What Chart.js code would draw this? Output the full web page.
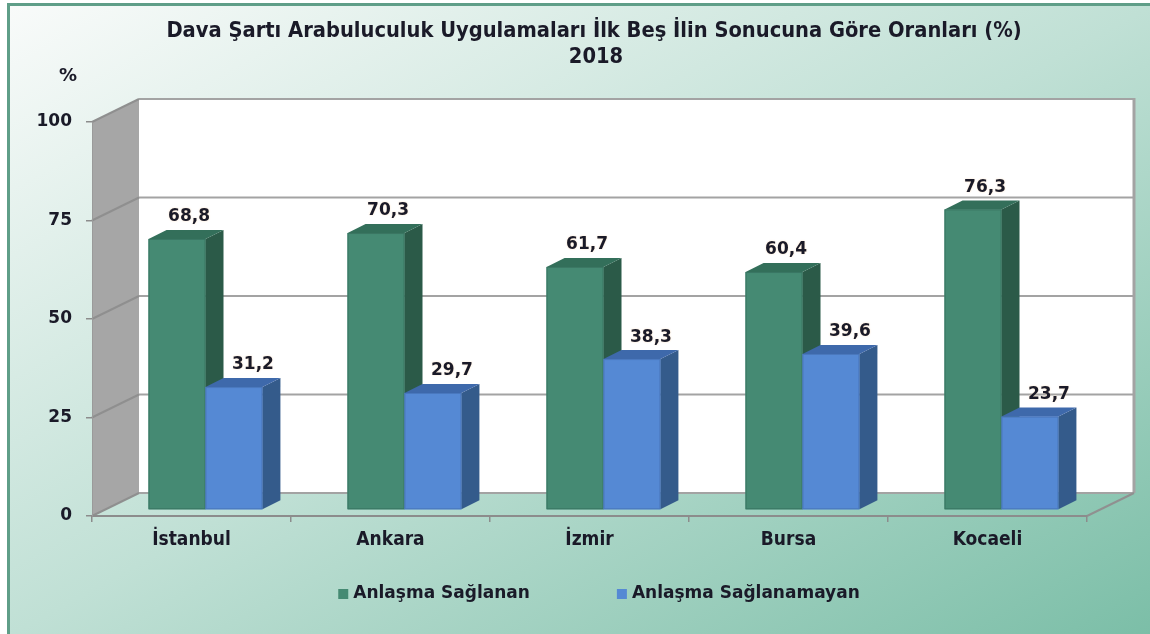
<!DOCTYPE html>
<html lang="tr">
<head>
<meta charset="utf-8">
<title>Dava Şartı Arabuluculuk 2018</title>
<script src="https://cdn.jsdelivr.net/npm/chart.js@4.4.1/dist/chart.umd.min.js"></script>
<style>
  html, body { margin: 0; padding: 0; background: #fff; overflow: hidden; }
  canvas { display: block; }
</style>
</head>
<body>
<canvas id="chart" width="1150" height="634"></canvas>
<script>
// data
const categories = ['İstanbul', 'Ankara', 'İzmir', 'Bursa', 'Kocaeli'];
const agreed = [68.8, 70.3, 61.7, 60.4, 76.3];
const notAgreed = [31.2, 29.7, 38.3, 39.6, 23.7];
const yTicks = [0, 25, 50, 75, 100];
const seriesNames = ['Anlaşma Sağlanan', 'Anlaşma Sağlanamayan'];
const titleLines = ['Dava Şartı Arabuluculuk Uygulamaları İlk Beş İlin Sonucuna Göre Oranları (%)', '2018'];

const W = 1150, H = 634;
const DX = 47, DY = -23;          // depth of the 3d box
const BDX = 18, BDY = -9;         // depth of one bar
const SHIFT_X = 14, SHIFT_Y = -6; // where the bars sit inside the box
const TEXT = '#1a1a28';

const faces = [
  { front: '#458a73', side: '#2b5a48', top: '#336f5a', edge: '#3a7663' },
  { front: '#5589d4', side: '#345b8b', top: '#3e69ab', edge: '#4a78bd' }
];

function fmt(v) {
  return v.toFixed(1).replace('.', ',');
}

function poly(ctx, pts, fill) {
  ctx.beginPath();
  ctx.moveTo(pts[0][0], pts[0][1]);
  for (let i = 1; i < pts.length; i++) ctx.lineTo(pts[i][0], pts[i][1]);
  ctx.closePath();
  ctx.fillStyle = fill;
  ctx.fill();
}

// background, walls, title, legend
const box3d = {
  id: 'box3d',
  beforeDraw(chart) {
    const ctx = chart.ctx;
    const xs = chart.scales.x, ys = chart.scales.y;
    ctx.save();

    ctx.fillStyle = '#fff';
    ctx.fillRect(0, 0, W, H);
    const g = ctx.createLinearGradient(7, 3, 543, 975);
    g.addColorStop(0, '#f9fbfa');
    g.addColorStop(0.5, '#c0e0d5');
    g.addColorStop(1, '#7bbea7');
    ctx.fillStyle = g;
    ctx.fillRect(7, 3, W - 7, H - 3);
    ctx.fillStyle = '#5f9e88';
    ctx.fillRect(7, 3, 3, H - 3);
    ctx.fillRect(7, 3, W - 7, 3);

    const l = xs.left, r = xs.right;
    const t = ys.getPixelForValue(100), b = ys.getPixelForValue(0);

    // back wall
    ctx.fillStyle = '#ffffff';
    ctx.fillRect(l + DX, t + DY, r - l, b - t);
    // side wall
    poly(ctx, [[l, t], [l + DX, t + DY], [l + DX, b + DY], [l, b]], '#a6a6a6');

    // grid lines on the walls
    ctx.lineWidth = 2;
    yTicks.forEach(v => {
      const py = ys.getPixelForValue(v);
      ctx.strokeStyle = '#8f8f8f';
      ctx.beginPath();
      ctx.moveTo(l, py);
      ctx.lineTo(l + DX, py + DY);
      ctx.stroke();
      ctx.strokeStyle = '#a3a3a3';
      ctx.beginPath();
      ctx.moveTo(l + DX, py + DY);
      ctx.lineTo(r + DX, py + DY);
      ctx.stroke();
    });
    // right edge of the back wall and of the floor
    ctx.strokeStyle = '#a3a3a3';
    ctx.lineWidth = 3;
    ctx.beginPath();
    ctx.moveTo(r + DX, t + DY - 1);
    ctx.lineTo(r + DX, b + DY);
    ctx.stroke();
    ctx.lineWidth = 2;
    ctx.strokeStyle = '#909090';
    ctx.beginPath();
    ctx.moveTo(r + DX, b + DY);
    ctx.lineTo(r, b);
    ctx.stroke();

    // title
    ctx.fillStyle = TEXT;
    ctx.textAlign = 'center';
    ctx.textBaseline = 'middle';
    ctx.font = 'bold 20px "DejaVu Sans Condensed"';
    const tw = ctx.measureText(titleLines[0]).width;
    const size = Math.min(22, 20 * 855 / tw);
    ctx.font = 'bold ' + size.toFixed(1) + 'px "DejaVu Sans Condensed"';
    ctx.fillText(titleLines[0], 594, 31);
    ctx.fillText(titleLines[1], 596, 57);

    // unit label
    ctx.font = 'bold 18px "DejaVu Sans"';
    ctx.fillText('%', 68, 76);

    // legend
    ctx.font = 'bold 17px "DejaVu Sans"';
    const box = 10, gap = 5, spacing = 87;
    const widths = seriesNames.map(s => box + gap + ctx.measureText(s).width);
    let lx = 599 - (widths[0] + spacing + widths[1]) / 2;
    const ly = 594;
    ctx.textAlign = 'left';
    seriesNames.forEach((s, i) => {
      ctx.fillStyle = faces[i].front;
      ctx.fillRect(lx, ly - 5, box, box);
      ctx.fillStyle = TEXT;
      ctx.fillText(s, lx + box + gap, ly);
      lx += widths[i] + spacing;
    });

    ctx.restore();
  },
  beforeDatasetsDraw(chart) {
    chart.ctx.save();
    chart.ctx.translate(SHIFT_X, SHIFT_Y);
  },
  afterDatasetsDraw(chart) {
    const ctx = chart.ctx;
    const metas = [chart.getDatasetMeta(0), chart.getDatasetMeta(1)];
    categories.forEach((c, i) => {
      metas.forEach((m, di) => {
        const p = m.data[i].getProps(['x', 'y', 'base', 'width'], true);
        const L = p.x - p.width / 2, R = p.x + p.width / 2;
        const f = faces[di];
        poly(ctx, [[L, p.y], [R, p.y], [R, p.base], [L, p.base]], f.front);
        poly(ctx, [[R, p.y], [R + BDX, p.y + BDY], [R + BDX, p.base + BDY], [R, p.base]], f.side);
        poly(ctx, [[L, p.y], [L + BDX, p.y + BDY], [R + BDX, p.y + BDY], [R, p.y]], f.top);
        ctx.strokeStyle = f.edge;
        ctx.lineWidth = 1;
        ctx.strokeRect(L + 0.5, p.y + 0.5, p.width - 1, p.base - p.y - 1);
      });
    });

    // value labels
    ctx.font = 'bold 17px "DejaVu Sans"';
    ctx.textAlign = 'center';
    ctx.textBaseline = 'middle';
    ctx.fillStyle = TEXT;
    ctx.shadowColor = 'rgba(255, 225, 190, 0.9)';
    ctx.shadowBlur = 2;
    metas.forEach((m, di) => {
      const vals = di === 0 ? agreed : notAgreed;
      const off = di === 0 ? 12 : 19;
      m.data.forEach((bar, i) => {
        const p = bar.getProps(['x', 'y'], true);
        ctx.fillText(fmt(vals[i]), p.x + off, p.y - 22);
      });
    });
    ctx.restore();
  }
};

new Chart(document.getElementById('chart').getContext('2d'), {
  type: 'bar',
  data: {
    labels: categories,
    datasets: [
      { label: seriesNames[0], data: agreed, backgroundColor: faces[0].front },
      { label: seriesNames[1], data: notAgreed, backgroundColor: faces[1].front }
    ]
  },
  options: {
    responsive: false,
    animation: false,
    devicePixelRatio: 1,
    categoryPercentage: 0.572,
    barPercentage: 1,
    clip: false,
    layout: { padding: { top: 122, right: 63, left: 0, bottom: 78 } },
    plugins: {
      legend: { display: false },
      title: { display: false },
      tooltip: { enabled: false }
    },
    scales: {
      x: {
        afterFit: function (scale) { scale.height = 40; },
        grid: { drawOnChartArea: false, drawTicks: true, tickLength: 6, color: '#8c8c8c', lineWidth: 1.5 },
        border: { display: true, color: '#8c8c8c', width: 2 },
        ticks: {
          padding: 7,
          color: TEXT,
          font: { family: 'DejaVu Sans Condensed', weight: 'bold', size: 19 }
        }
      },
      y: {
        min: 0,
        max: 100,
        afterFit: function (scale) { scale.width = 92; },
        afterBuildTicks: function (scale) { scale.ticks = yTicks.map(v => ({ value: v })); },
        grid: { drawOnChartArea: false, drawTicks: true, tickLength: 6, color: '#8c8c8c', lineWidth: 1.5 },
        border: { display: true, color: '#9a9a9a', width: 1 },
        ticks: {
          padding: 14,
          color: TEXT,
          font: { family: 'DejaVu Sans', weight: 'bold', size: 17 }
        }
      }
    }
  },
  plugins: [box3d]
});
</script>
</body>
</html>
